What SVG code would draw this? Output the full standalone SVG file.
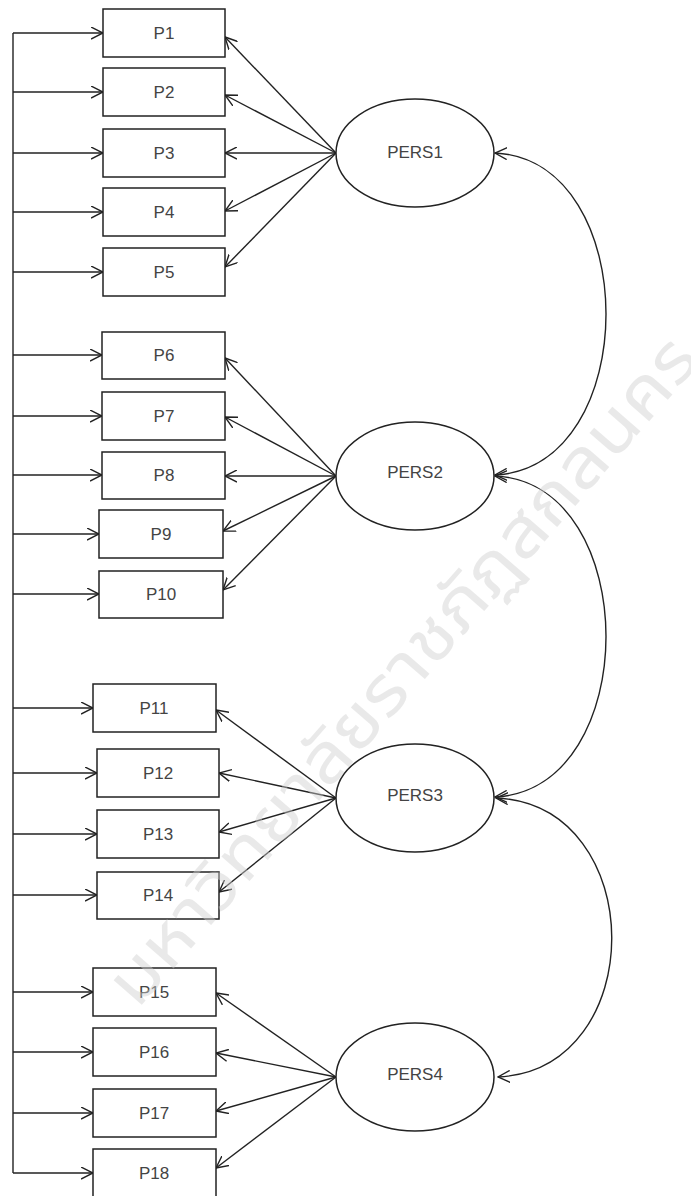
<svg xmlns="http://www.w3.org/2000/svg" width="691" height="1196" viewBox="0 0 691 1196">
<style>
.box{fill:#fff;stroke:#222;stroke-width:1.5}
.lat{fill:#fff;stroke:#222;stroke-width:1.5}
.lbl{font-family:"Liberation Sans",Arial,sans-serif;font-size:17px;fill:#444;text-anchor:middle;dominant-baseline:central}
.ln{fill:none;stroke:#222;stroke-width:1.4}
.wm{font-family:"Noto Sans Thai","Noto Sans","DejaVu Sans",sans-serif;font-size:68px;font-weight:400;fill:#cfcfcf;fill-opacity:0.45;text-anchor:middle;dominant-baseline:central}
</style>
<defs>
<marker id="ah" viewBox="0 0 13 13" refX="12" refY="6.5" markerWidth="13" markerHeight="13" markerUnits="userSpaceOnUse" orient="auto-start-reverse">
<path d="M0,0.5 L12,6.5 L0,12.5" fill="none" stroke="#222" stroke-width="1.4"/>
</marker>
</defs>
<rect width="691" height="1196" fill="#fff"/>
<g id="connectors" class="ln">
<path d="M13 33 V1173"/>
<path d="M13 33 H103" marker-end="url(#ah)"/>
<path d="M13 92 H103" marker-end="url(#ah)"/>
<path d="M13 153 H103" marker-end="url(#ah)"/>
<path d="M13 212 H103" marker-end="url(#ah)"/>
<path d="M13 272 H103" marker-end="url(#ah)"/>
<path d="M13 355 H102" marker-end="url(#ah)"/>
<path d="M13 416 H102" marker-end="url(#ah)"/>
<path d="M13 475 H102" marker-end="url(#ah)"/>
<path d="M13 534 H99" marker-end="url(#ah)"/>
<path d="M13 594 H99" marker-end="url(#ah)"/>
<path d="M13 708 H93" marker-end="url(#ah)"/>
<path d="M13 773 H97" marker-end="url(#ah)"/>
<path d="M13 834 H97" marker-end="url(#ah)"/>
<path d="M13 895 H97" marker-end="url(#ah)"/>
<path d="M13 992 H93" marker-end="url(#ah)"/>
<path d="M13 1052 H93" marker-end="url(#ah)"/>
<path d="M13 1113 H93" marker-end="url(#ah)"/>
<path d="M13 1173 H93" marker-end="url(#ah)"/>
<path d="M336 153 L225 37" marker-end="url(#ah)"/>
<path d="M336 153 L225 95" marker-end="url(#ah)"/>
<path d="M336 153 L225 153" marker-end="url(#ah)"/>
<path d="M336 153 L225 211" marker-end="url(#ah)"/>
<path d="M336 153 L225 267" marker-end="url(#ah)"/>
<path d="M336 476 L225 358" marker-end="url(#ah)"/>
<path d="M336 476 L225 417" marker-end="url(#ah)"/>
<path d="M336 476 L225 476" marker-end="url(#ah)"/>
<path d="M336 476 L223 531" marker-end="url(#ah)"/>
<path d="M336 476 L223 590" marker-end="url(#ah)"/>
<path d="M336 798 L216 710" marker-end="url(#ah)"/>
<path d="M336 798 L219 773" marker-end="url(#ah)"/>
<path d="M336 798 L219 832" marker-end="url(#ah)"/>
<path d="M336 798 L219 892" marker-end="url(#ah)"/>
<path d="M336 1077 L216 993" marker-end="url(#ah)"/>
<path d="M336 1077 L216 1053" marker-end="url(#ah)"/>
<path d="M336 1077 L216 1111" marker-end="url(#ah)"/>
<path d="M336 1077 L216 1168" marker-end="url(#ah)"/>
<path d="M495 153 C643 160 643 468 495 475" marker-start="url(#ah)" marker-end="url(#ah)"/>
<path d="M495 476 C643 483 643 790 495 797" marker-start="url(#ah)" marker-end="url(#ah)"/>
<path d="M496 798 C650 805 650 1070 498 1077" marker-start="url(#ah)" marker-end="url(#ah)"/>
</g>
<g id="P1"><rect class="box" x="103" y="9" width="122" height="48"/><text class="lbl" x="164" y="33">P1</text></g>
<g id="P2"><rect class="box" x="103" y="68" width="122" height="48"/><text class="lbl" x="164" y="92">P2</text></g>
<g id="P3"><rect class="box" x="103" y="129" width="122" height="48"/><text class="lbl" x="164" y="153">P3</text></g>
<g id="P4"><rect class="box" x="103" y="188" width="122" height="48"/><text class="lbl" x="164" y="212">P4</text></g>
<g id="P5"><rect class="box" x="103" y="248" width="122" height="48"/><text class="lbl" x="164" y="272">P5</text></g>
<g id="P6"><rect class="box" x="102" y="332" width="123" height="47"/><text class="lbl" x="164" y="355">P6</text></g>
<g id="P7"><rect class="box" x="102" y="392" width="123" height="48"/><text class="lbl" x="164" y="416">P7</text></g>
<g id="P8"><rect class="box" x="102" y="452" width="123" height="47"/><text class="lbl" x="164" y="475">P8</text></g>
<g id="P9"><rect class="box" x="99" y="510" width="124" height="48"/><text class="lbl" x="161" y="534">P9</text></g>
<g id="P10"><rect class="box" x="99" y="571" width="124" height="47"/><text class="lbl" x="161" y="594">P10</text></g>
<g id="P11"><rect class="box" x="93" y="684" width="123" height="48"/><text class="lbl" x="154" y="708">P11</text></g>
<g id="P12"><rect class="box" x="97" y="749" width="122" height="48"/><text class="lbl" x="158" y="773">P12</text></g>
<g id="P13"><rect class="box" x="97" y="810" width="122" height="48"/><text class="lbl" x="158" y="834">P13</text></g>
<g id="P14"><rect class="box" x="97" y="872" width="122" height="47"/><text class="lbl" x="158" y="895">P14</text></g>
<g id="P15"><rect class="box" x="93" y="968" width="123" height="48"/><text class="lbl" x="154" y="992">P15</text></g>
<g id="P16"><rect class="box" x="93" y="1028" width="123" height="48"/><text class="lbl" x="154" y="1052">P16</text></g>
<g id="P17"><rect class="box" x="93" y="1089" width="123" height="48"/><text class="lbl" x="154" y="1113">P17</text></g>
<g id="P18"><rect class="box" x="93" y="1149" width="123" height="48"/><text class="lbl" x="154" y="1173">P18</text></g>
<g id="PERS1"><ellipse class="lat" cx="415" cy="153" rx="79" ry="54"/><text class="lbl" x="415" y="152">PERS1</text></g>
<g id="PERS2"><ellipse class="lat" cx="415" cy="476" rx="79" ry="54"/><text class="lbl" x="415" y="472">PERS2</text></g>
<g id="PERS3"><ellipse class="lat" cx="415" cy="798" rx="79" ry="54"/><text class="lbl" x="415" y="795">PERS3</text></g>
<g id="PERS4"><ellipse class="lat" cx="415" cy="1077" rx="79" ry="54"/><text class="lbl" x="415" y="1074">PERS4</text></g>
<g id="watermark">
<text class="wm" x="404" y="672" transform="rotate(-49 404 672)" textLength="860" lengthAdjust="spacingAndGlyphs">มหาวิทยาลัยราชภัฏสกลนคร</text>
</g>
</svg>
